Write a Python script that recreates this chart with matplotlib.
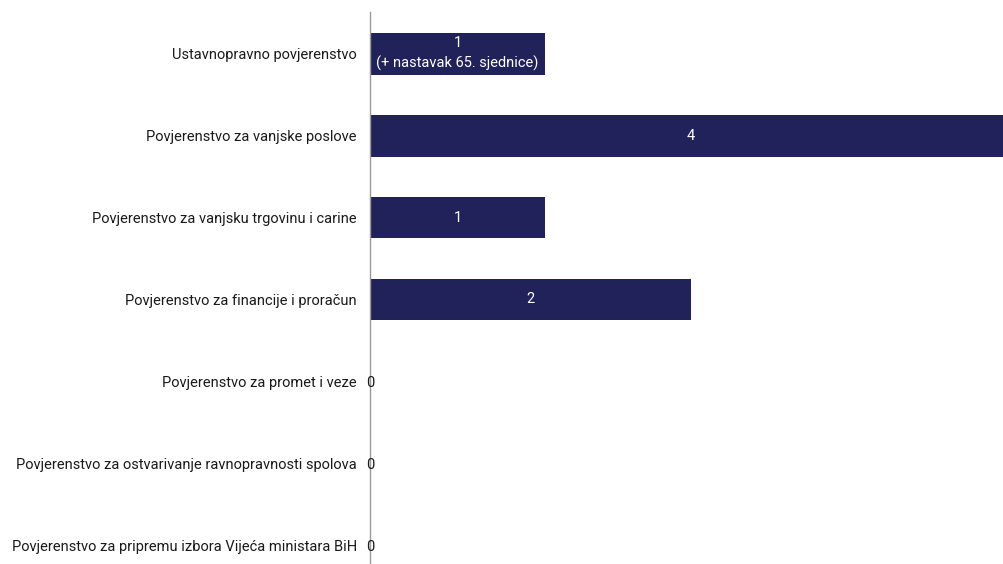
import matplotlib
matplotlib.use("Agg")
import matplotlib.pyplot as plt

# Committee names (top to bottom)
categories = [
    "Ustavnopravno povjerenstvo",
    "Povjerenstvo za vanjske poslove",
    "Povjerenstvo za vanjsku trgovinu i carine",
    "Povjerenstvo za financije i proračun",
    "Povjerenstvo za promet i veze",
    "Povjerenstvo za ostvarivanje ravnopravnosti spolova",
    "Povjerenstvo za pripremu izbora Vijeća ministara BiH",
]
# number of sessions shown on each bar
counts = [1, 4, 1, 2, 0, 0, 0]
# bar lengths as drawn in the picture
bar_lengths = [1.09, 4.0, 1.09, 2.0, 0, 0, 0]
value_labels = ["1\n(+ nastavak 65. sjednice)", "4", "1", "2", "0", "0", "0"]

BAR_COLOR = "#22225a"
TEXT_COLOR = "#1a1a1a"

plt.rcParams['font.family'] = ['Roboto', 'DejaVu Sans']

fig = plt.figure(figsize=(10.04, 5.64), dpi=100)
ax = fig.add_axes([370 / 1004, 0, 1 - 370 / 1004, 1 - 12 / 564])

y = list(range(len(categories)))
ax.barh(y, bar_lengths, height=0.51, color=BAR_COLOR, edgecolor="none")

ax.set_xlim(0, 634 / 160.5)
ax.set_ylim(6.23, -0.51)

for i, (c, w, lab) in enumerate(zip(counts, bar_lengths, value_labels)):
    if w > 0:
        ax.text(w / 2, i, lab, ha="center", va="center", color="white",
                fontsize=10.5, linespacing=1.45)
    else:
        ax.text(0.0, i + 0.02, lab, ha="center", va="center", color=TEXT_COLOR,
                fontsize=10.5)

ax.set_yticks(y)
ax.set_yticklabels(categories, fontsize=10.5, color=TEXT_COLOR)
ax.tick_params(axis="y", length=0, pad=9.5)
ax.set_xticks([])

for side in ["top", "right", "bottom"]:
    ax.spines[side].set_visible(False)
ax.spines["left"].set_color("#9a9a9a")
ax.spines["left"].set_linewidth(1)

fig.savefig("out.png", dpi=100)
